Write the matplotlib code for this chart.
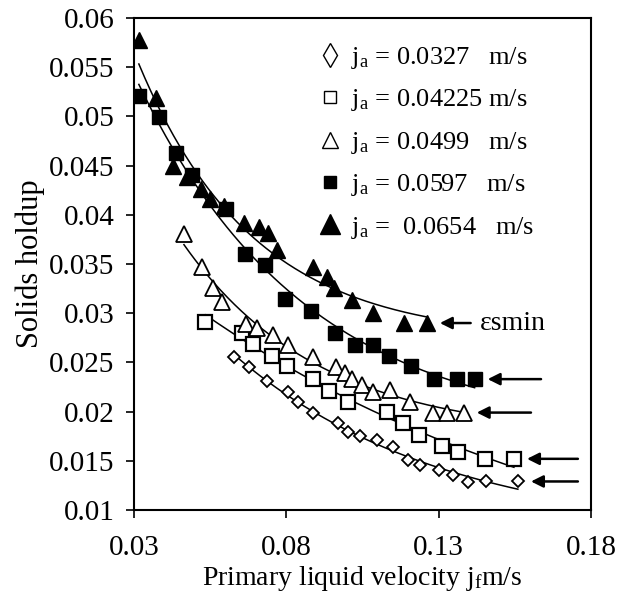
import numpy as np
import matplotlib
matplotlib.use('Agg')
import matplotlib.pyplot as plt
from matplotlib.lines import Line2D

plt.rcParams['font.family'] = ['Liberation Serif', 'DejaVu Serif']
plt.rcParams['mathtext.fontset'] = 'custom'
plt.rcParams['mathtext.rm'] = 'Liberation Serif'

# ja = 0.0327 m/s (diamonds)
x_d = [0.0629, 0.0678, 0.0738, 0.0807, 0.0839, 0.0886, 0.0968, 0.1001, 0.1043,
       0.1096, 0.1149, 0.1198, 0.1238, 0.1300, 0.1346, 0.1395, 0.1455, 0.1560]
y_d = [0.0255, 0.0245, 0.0231, 0.0220, 0.0210, 0.0199, 0.0188, 0.0179, 0.0175,
       0.0171, 0.0164, 0.0151, 0.0146, 0.0141, 0.0136, 0.0128, 0.0129, 0.0129]

# ja = 0.04225 m/s (open squares)
x_os = [0.0534, 0.0655, 0.0691, 0.0754, 0.0803, 0.0889, 0.0941, 0.1001, 0.1129,
        0.1182, 0.1234, 0.1310, 0.1362, 0.1451, 0.1547]
y_os = [0.0291, 0.0280, 0.0269, 0.0257, 0.0246, 0.0233, 0.0221, 0.0210, 0.0200,
        0.0188, 0.0176, 0.0165, 0.0159, 0.0152, 0.0152]

# ja = 0.0499 m/s (open triangles)
x_ot = [0.0464, 0.0524, 0.0560, 0.0589, 0.0668, 0.0705, 0.0757, 0.0807, 0.0889,
        0.0964, 0.0991, 0.1017, 0.1050, 0.1083, 0.1139, 0.1205, 0.1280, 0.1326, 0.1382]
y_ot = [0.0380, 0.0347, 0.0326, 0.0311, 0.0289, 0.0285, 0.0278, 0.0268, 0.0255,
        0.0245, 0.0239, 0.0233, 0.0227, 0.0220, 0.0222, 0.0210, 0.0199, 0.0199, 0.0199]

# ja = 0.0597 m/s (filled squares)
x_fs = [0.0316, 0.0382, 0.0438, 0.0491, 0.0603, 0.0665, 0.0731, 0.0797, 0.0882,
        0.0961, 0.1024, 0.1086, 0.1136, 0.1208, 0.1284, 0.1359, 0.1418]
y_fs = [0.0521, 0.0499, 0.0463, 0.0440, 0.0406, 0.0360, 0.0349, 0.0314, 0.0302,
        0.0280, 0.0268, 0.0268, 0.0257, 0.0246, 0.0233, 0.0233, 0.0233]

# ja = 0.0654 m/s (filled triangles)
x_ft = [0.0316, 0.0372, 0.0428, 0.0474, 0.0520, 0.0550, 0.0596, 0.0662, 0.0711,
        0.0741, 0.0770, 0.0889, 0.0935, 0.0955, 0.1017, 0.1083, 0.1185, 0.1261]
y_ft = [0.0578, 0.0519, 0.0450, 0.0438, 0.0426, 0.0416, 0.0409, 0.0392, 0.0388,
        0.0382, 0.0364, 0.0347, 0.0337, 0.0326, 0.0313, 0.0300, 0.0290, 0.0290]

labels = ['0.0327   m/s', '0.04225 m/s', '0.0499   m/s', '0.0597   m/s', ' 0.0654   m/s']
xticks = [0.03, 0.08, 0.13, 0.18]
yticks = [0.01, 0.015, 0.02, 0.025, 0.03, 0.035, 0.04, 0.045, 0.05, 0.055, 0.06]
arrow_tail_x = [0.1757, 0.1757, 0.1603, 0.1636, 0.1405]


def decay_fit(xs, ys):
    # y = a + b*exp(-k*x), k picked by a simple scan
    best = None
    for k in np.linspace(2, 80, 400):
        A = np.column_stack([np.ones_like(xs), np.exp(-k * xs)])
        coef, res, _, _ = np.linalg.lstsq(A, ys, rcond=None)
        err = np.sum((A @ coef - ys) ** 2)
        if best is None or err < best[0]:
            best = (err, k, coef)
    _, k, coef = best
    return lambda x: coef[0] + coef[1] * np.exp(-k * x)


fig = plt.figure(figsize=(6.18, 5.96), dpi=100)
ax = fig.add_axes([0.2168, 0.1443, 0.7395, 0.8255])

series = [(x_d, y_d), (x_os, y_os), (x_ot, y_ot), (x_fs, y_fs), (x_ft, y_ft)]
styles = [dict(marker='D', ms=6.5, mfc='white', mec='black', mew=1.3),
          dict(marker='s', ms=9.5, mfc='white', mec='black', mew=1.6),
          dict(marker='^', ms=11, mfc='white', mec='black', mew=1.3),
          dict(marker='s', ms=10, mfc='black', mec='black'),
          dict(marker='^', ms=11.5, mfc='black', mec='black')]

for (xs, ys), st, tail in zip(series, styles, arrow_tail_x):
    xs = np.array(xs)
    ys = np.array(ys)
    f = decay_fit(xs, ys)
    xx = np.linspace(xs.min(), xs.max(), 200)
    ax.plot(xx, f(xx), color='black', lw=1.1, zorder=2)
    ax.plot(xs, ys, ls='none', zorder=3, **st)
    ax.annotate('', xy=(xs[-1] + 0.0043, ys[-1]), xytext=(tail, ys[-1]),
                arrowprops=dict(arrowstyle='-|>', color='black', lw=1.8,
                                mutation_scale=18, shrinkA=0, shrinkB=0))

ax.text(arrow_tail_x[-1] + 0.003, y_ft[-1], 'εsmin', fontsize=20,
        va='center', ha='left')

handles = [Line2D([], [], ls='none', marker='d', ms=12, mfc='white', mec='black', mew=1.0),
           Line2D([], [], ls='none', marker='s', ms=8, mfc='white', mec='black', mew=1.0),
           Line2D([], [], ls='none', marker='^', ms=11, mfc='white', mec='black', mew=1.0),
           Line2D([], [], ls='none', marker='s', ms=8, mfc='black', mec='black'),
           Line2D([], [], ls='none', marker='^', ms=14, mfc='black', mec='black')]
leg_labels = [r'$\mathregular{j_a}$ = ' + s for s in labels]
ax.legend(handles, leg_labels, loc='upper left', bbox_to_anchor=(0.40, 0.945),
          frameon=False, fontsize=19, handlelength=1.0, handletextpad=0.3,
          labelspacing=0.62, borderpad=0, borderaxespad=0)

ax.set_xlim(0.03, 0.18)
ax.set_ylim(0.01, 0.06)
ax.set_xticks(xticks)
ax.set_yticks(yticks)
ax.set_xticklabels([f'{v:g}' for v in xticks])
ax.set_yticklabels([f'{v:g}' for v in yticks])
ax.tick_params(direction='out', length=6, width=1.2, pad=4)
ax.tick_params(axis='x', labelsize=21, pad=12)
ax.tick_params(axis='y', labelsize=21, pad=8)
for sp in ax.spines.values():
    sp.set_linewidth(1.5)

ax.set_xlabel(r'Primary liquid velocity $\mathregular{j_f}$m/s', fontsize=20, labelpad=2)
ax.set_ylabel('Solids holdup', fontsize=22, labelpad=3)

fig.savefig('out.png', dpi=100)
